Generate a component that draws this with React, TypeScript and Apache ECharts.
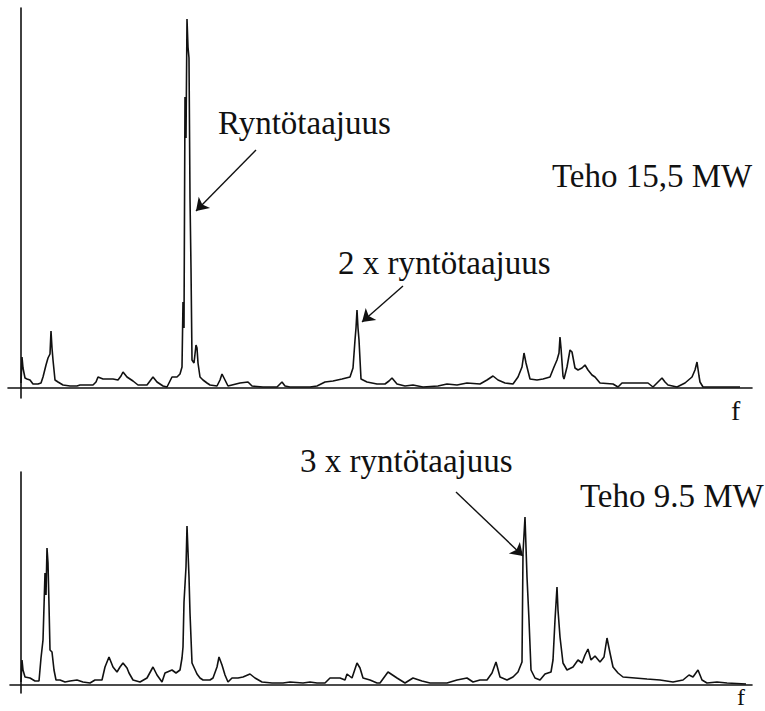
import React, { useEffect, useRef } from "react";
import * as echarts from "echarts";

// Upper spectrum, power 15.5 MW: frequency bin and amplitude
const freqHigh = [
  0, 1, 2, 4, 6, 9, 12, 17, 20, 22, 25, 27, 29, 30, 31, 32, 34, 37, 42, 49, 56, 59, 72, 75, 77, 82, 87, 92, 97, 100,
  102, 106, 112, 117, 126, 129, 132, 136, 142, 146, 151, 156, 159, 161, 162, 163, 164, 165, 166, 167, 168, 169, 170,
  171, 173, 175, 176, 177, 179, 182, 186, 189, 196, 199, 201, 204, 207, 211, 219, 227, 231, 242, 256, 259, 261, 264,
  269, 289, 296, 304, 312, 321, 329, 332, 334, 335, 336, 337, 338, 340, 346, 356, 364, 368, 371, 376, 384, 392, 402,
  417, 426, 436, 446, 459, 466, 472, 477, 484, 492, 497, 501, 503, 505, 506, 509, 516, 522, 529, 533, 536, 538, 539,
  540, 542, 543, 546, 549, 551, 554, 557, 561, 564, 567, 571, 574, 579, 592, 597, 601, 607, 627, 632, 637, 641, 644,
  647, 656, 664, 671, 674, 676, 678, 679, 682, 719,
];
const ampHigh = [
  5, 31, 20, 10, 9, 8, 4, 4, 5, 11, 23, 30, 34, 57, 40, 28, 8, 6, 3, 2, 2, 3, 3, 6, 11, 9, 9, 9, 8, 12,
  16, 11, 7, 3, 3, 7, 11, 6, 2, 1, 11, 11, 14, 21, 86, 60, 291, 250, 369, 341, 330, 190, 120,
  28, 25, 43, 40, 25, 11, 8, 5, 3, 2, 8, 14, 8, 2, 3, 5, 6, 2, 1, 1, 4, 6, 2,
  1, 1, 2, 6, 7, 9, 11, 20, 48, 60, 78, 60, 48, 9, 6, 4, 4, 7, 10, 4, 2, 3, 1,
  2, 4, 3, 5, 4, 8, 12, 8, 5, 4, 11, 21, 35, 25, 21, 9, 8, 9, 11, 21, 28, 35, 51,
  40, 12, 9, 21, 38, 36, 20, 18, 20, 23, 18, 13, 11, 5, 4, 1, 5, 5, 5, 1, 6, 10, 6,
  3, 1, 5, 11, 18, 26, 12, 6, 1, 1,
];

// Lower spectrum, power 9.5 MW
const freqLow = [
  0, 1, 2, 4, 9, 14, 18, 20, 22, 24, 25, 26, 27, 28, 29, 31, 33, 35, 39, 44, 49, 56, 62, 69, 74, 81, 84, 88, 92, 96,
  99, 102, 106, 108, 112, 119, 126, 132, 136, 141, 144, 151, 155, 159, 161, 162, 163, 165, 166, 168, 169, 171, 176,
  179, 182, 189, 192, 196, 198, 201, 204, 207, 211, 217, 222, 229, 234, 241, 251, 262, 269, 282, 289, 296, 304, 309,
  319, 324, 326, 331, 336, 339, 342, 349, 356, 359, 367, 376, 384, 392, 401, 409, 426, 436, 446, 452, 459, 466, 471,
  475, 479, 486, 492, 497, 501, 502, 504, 506, 508, 510, 514, 519, 524, 530, 532, 534, 536, 537, 539, 542, 546, 552,
  557, 561, 564, 567, 570, 574, 579, 583, 586, 589, 592, 597, 602, 614, 626, 639, 652, 662, 668, 672, 677, 681, 686,
  696, 706, 725,
];
const ampLow = [
  3, 25, 15, 8, 7, 4, 4, 27, 45, 112, 90, 137, 122, 80, 35, 33, 15, 5, 5, 3, 4, 5, 3, 2, 5, 5, 18, 28, 18, 13,
  18, 22, 17, 12, 5, 3, 7, 18, 10, 3, 12, 15, 12, 15, 27, 38, 83, 118, 159, 108, 72, 22, 11,
  7, 5, 5, 7, 18, 28, 20, 10, 3, 7, 7, 8, 11, 7, 3, 2, 2, 3, 2, 3, 2, 2, 7,
  7, 5, 11, 7, 22, 17, 7, 5, 2, 2, 13, 7, 2, 7, 4, 2, 2, 5, 7, 3, 5, 5, 12,
  23, 8, 5, 8, 13, 23, 132, 168, 108, 65, 15, 7, 5, 11, 13, 25, 65, 98, 75, 48, 22, 15, 18,
  25, 22, 30, 36, 25, 29, 23, 28, 47, 32, 18, 12, 8, 7, 6, 5, 3, 5, 10, 8, 15, 5, 2,
  3, 2, 1,
];

// Annotation arrows: [fromFreq, fromAmp, toFreq, toAmp]
const arrowFundamental = [235, 238, 175, 177];
const arrowSecond = [382, 102, 341, 66];
const arrowThird = [435, 193, 502, 129];

const labelFundamental = "Ryntötaajuus";
const labelSecond = "2 x ryntötaajuus";
const labelThird = "3 x ryntötaajuus";
const labelPowerHigh = "Teho 15,5 MW";
const labelPowerLow = "Teho 9.5 MW";
const labelAxis = "f";

const INK = "#111";
const SERIF = '"Liberation Serif", "Times New Roman", serif';

const axisLine = { onZero: true, lineStyle: { color: INK, width: 1.6 } };
const hidden = {
  axisTick: { show: false },
  axisLabel: { show: false },
  splitLine: { show: false },
};

function arrowLine(a: number[]) {
  return [{ coord: [a[0], a[1]] }, { coord: [a[2], a[3]] }];
}

function markArrows(list: number[][]) {
  return {
    silent: true,
    symbol: ["none", "arrow"],
    symbolSize: 12,
    label: { show: false },
    lineStyle: { color: INK, width: 1.4, type: "solid" },
    itemStyle: { color: INK },
    emphasis: { disabled: true },
    data: list.map(arrowLine),
  };
}

function label(text: string, x: number, y: number, size = 33) {
  return {
    type: "text",
    x,
    y,
    silent: true,
    style: {
      text,
      font: `${size}px ${SERIF}`,
      fill: INK,
      align: "left",
      verticalAlign: "middle",
      textAlign: "left",
      textVerticalAlign: "middle",
    },
  };
}

export default function App() {
  const ref = useRef<HTMLDivElement>(null);

  useEffect(() => {
    if (!ref.current) return;
    const chart = echarts.init(ref.current, undefined, { renderer: "svg" });
    chart.setOption({
      animation: false,
      backgroundColor: "#fff",
      grid: [
        { left: 8, right: 13, top: 8, height: 390 },
        { left: 10, right: 13, top: 472, height: 221 },
      ],
      xAxis: [
        { gridIndex: 0, type: "value", min: -13, max: 731, axisLine, ...hidden },
        { gridIndex: 1, type: "value", min: -11, max: 731, axisLine, ...hidden },
      ],
      yAxis: [
        { gridIndex: 0, type: "value", min: -10, max: 380, axisLine: { ...axisLine, show: true }, ...hidden },
        { gridIndex: 1, type: "value", min: -8, max: 213, axisLine: { ...axisLine, show: true }, ...hidden },
      ],
      series: [
        {
          type: "line",
          xAxisIndex: 0,
          yAxisIndex: 0,
          data: freqHigh.map((f, i) => [f, ampHigh[i]]),
          symbol: "none",
          lineStyle: { color: INK, width: 1.6 },
          markLine: markArrows([arrowFundamental, arrowSecond]),
        },
        {
          type: "line",
          xAxisIndex: 1,
          yAxisIndex: 1,
          data: freqLow.map((f, i) => [f, ampLow[i]]),
          symbol: "none",
          lineStyle: { color: INK, width: 1.6 },
          markLine: markArrows([arrowThird]),
        },
      ],
      graphic: [
        label(labelFundamental, 218, 123),
        label(labelPowerHigh, 552, 176),
        label(labelSecond, 338, 263),
        label(labelAxis, 731, 410, 28),
        label(labelThird, 300, 461),
        label(labelPowerLow, 580, 496),
        label(labelAxis, 737, 697, 24),
      ],
    });
    return () => chart.dispose();
  }, []);

  return (
    <div
      ref={ref}
      style={{ position: "fixed", left: 0, top: 0, width: 765, height: 711, background: "#fff" }}
    />
  );
}
